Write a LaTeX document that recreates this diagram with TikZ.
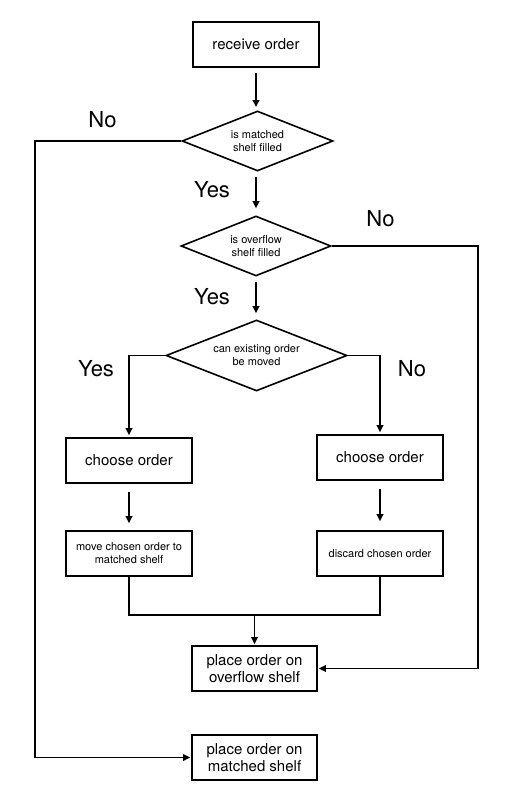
\documentclass[tikz,border=0pt]{standalone}
\usepackage{fontspec}
\setmainfont{TeX Gyre Heros}
\usetikzlibrary{shapes.geometric,arrows.meta}
\tikzset{
  box/.style={draw, line width=1.6pt, rectangle, minimum width=126pt, minimum height=45pt, inner sep=0pt, align=center, font=\fontsize{15}{17.7}\selectfont},
  smallbox/.style={box, font=\fontsize{11}{13}\selectfont},
  dia/.style={draw, line width=1.6pt, diamond, aspect=2.5, inner sep=0pt, align=center, font=\fontsize{11}{13}\selectfont},
  lab/.style={font=\fontsize{22}{26}\selectfont, inner sep=0pt},
  arr/.style={line width=1.8pt, -{Triangle[length=7pt,width=6.5pt]}},
  ln/.style={line width=1.8pt}
}
\begin{document}
\begin{tikzpicture}[x=1pt,y=-1pt]
\useasboundingbox (0,0) rectangle (512,800);
\node[box] (recv) at (256,44.5) {receive order};
\node[dia, minimum width=151pt, minimum height=60pt] (d1) at (257.5,141) {is matched\\shelf filled};
\node[dia, minimum width=150pt, minimum height=60pt] (d2) at (256,246) {is overflow\\shelf filled};
\node[dia, minimum width=181pt, minimum height=71pt] (d3) at (256.5,355.5) {can existing order\\be moved};
\node[box] (lch) at (129,460.5) {choose order};
\node[box] (rch) at (380,457.5) {choose order};
\node[smallbox] (move) at (129,553.5) {move chosen order to\\matched shelf};
\node[smallbox] (disc) at (380,553.5) {discard chosen order};
\node[box, minimum width=125pt] (over) at (254.5,668.5) {place order on\\overflow shelf};
\node[box, minimum width=125pt] (match) at (254.5,757.5) {place order on\\matched shelf};

\node[lab] (no1) at (102.5,120) {No};
\node[lab] (yes1) at (212,190) {Yes};
\node[lab] (no2) at (380.5,219) {No};
\node[lab] (yes2) at (212,297) {Yes};
\node[lab] (yes3) at (96,369) {Yes};
\node[lab] (no3) at (412,369) {No};

\coordinate (lc) at (35,757.5);
\coordinate (rc) at (478,668.5);
\coordinate (mj) at (254.5,615);

\draw[arr, shorten <=5pt, shorten >=4pt] (recv.south -| 256,0) -- (256,111);
\draw[arr, shorten <=5pt, shorten >=7pt] (d1.south -| 256,0) -- (d2.north);
\draw[arr, shorten <=5pt, shorten >=6pt] (d2.south) -- (d2.south |- d3.north);
\draw[arr, shorten >=2pt] (d3.west) -| (lch.north);
\draw[arr, shorten >=2pt] (d3.east) -| (rch.north);
\draw[arr, shorten <=8pt, shorten >=7pt] (lch.south) -- (move.north);
\draw[arr, shorten <=8pt, shorten >=9pt] (rch.south) -- (disc.north);
\draw[ln] (move.south) |- (mj) -| (disc.south);
\draw[arr, shorten >=1pt] (mj) -- (over.north);
\draw[arr, shorten >=1pt] (d2.east) -| (rc) -- (over.east);
\draw[arr, shorten >=1pt] (d1.west) -| (lc) -- (match.west);
\end{tikzpicture}
\end{document}
